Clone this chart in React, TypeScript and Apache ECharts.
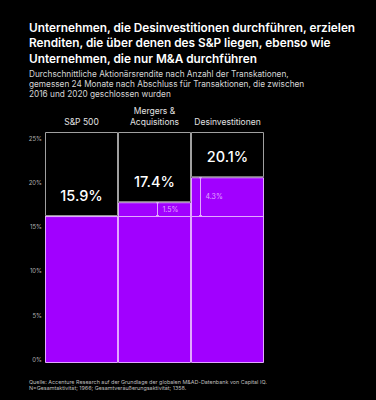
import React, { useEffect, useRef } from "react";
import * as echarts from "echarts";

const titleText = "Unternehmen, die Desinvestitionen durchführen, erzielen\nRenditen, die über denen des S&P liegen, ebenso wie\nUnternehmen, die nur M&A durchführen";
const subtitleText = "Durchschnittliche Aktionärsrendite nach Anzahl der Transkationen,\ngemessen 24 Monate nach Abschluss für Transaktionen, die zwischen\n2016 und 2020 geschlossen wurden";
const footerText = "Quelle: Accenture Research auf der Grundlage der globalen M&AD-Datenbank von Capital IQ.\nN=Gesamtaktivität; 1966; Gesamtveräußerungsaktivität; 1358.";

const categories = ["S&P 500", "Mergers &\nAcquisitions", "Desinvestitionen"];
const returns = [15.9, 17.4, 20.1];
const diffLabels = ["", "1.5%", "4.3%"];
const axisMax = 25;
const axisStep = 5;

const bracketOffsets = [0, 39, 9];
const FONT = "Inter, 'Noto Sans', sans-serif";
const PURPLE = "#a100ff";
const LIGHT = "#e2a8ff";

export default function App() {
  const ref = useRef<HTMLDivElement>(null);
  useEffect(() => {
    if (!ref.current) return;
    const chart = echarts.init(ref.current, undefined, { renderer: "svg" });
    const base = returns[0];
    const bracketData = returns.slice(1).map((v, i) => [i + 1, base, v]);
    chart.setOption({
      animation: false,
      backgroundColor: "#000",
      textStyle: { fontFamily: FONT },
      title: [
        {
          text: titleText,
          left: 24,
          top: 15,
          textStyle: { color: "#fff", fontSize: 11.8, fontWeight: 600, lineHeight: 15.5, fontFamily: FONT },
        },
        {
          text: subtitleText,
          left: 24,
          top: 64,
          textStyle: { color: "#d6d6d6", fontSize: 8.25, fontWeight: 400, lineHeight: 10, fontFamily: FONT },
        },
        {
          text: footerText,
          left: 24,
          top: 374,
          textStyle: { color: "#bdbdbd", fontSize: 5.4, fontWeight: 400, lineHeight: 6, fontFamily: FONT },
        },
      ],
      grid: [
        { left: 45, right: 112, top: 132, bottom: 37 },
        { left: 45, right: 112, top: 138, bottom: 40.5 },
      ],
      xAxis: [
        {
          type: "category",
          data: categories,
          position: "top",
          gridIndex: 0,
          axisLine: { show: false },
          axisTick: { show: false },
          axisLabel: { interval: 0, hideOverlap: false, color: "#e0e0e0", fontSize: 8.5, margin: 5, lineHeight: 11, fontFamily: FONT },
        },
        { type: "category", data: categories, gridIndex: 1, show: false },
      ],
      yAxis: [
        {
          type: "value",
          min: 0,
          max: axisMax,
          interval: axisStep,
          gridIndex: 0,
          axisLine: { show: false },
          axisTick: { show: false },
          axisLabel: { show: false },
          splitLine: { show: false },
        },
        {
          type: "value",
          min: 0,
          max: axisMax,
          interval: axisStep,
          gridIndex: 1,
          axisLine: { show: false },
          axisTick: { show: false },
          splitLine: { show: false },
          axisLabel: { color: "#b0b0b0", fontSize: 6, margin: 3, formatter: "{value}%", fontFamily: FONT },
        },
      ],
      series: [
        {
          type: "bar",
          stack: "total",
          data: returns,
          barCategoryGap: 0,
          itemStyle: { color: PURPLE, borderColor: LIGHT, borderWidth: 1 },
          markLine: {
            silent: true,
            symbol: ["none", "none"],
            label: { show: false },
            lineStyle: { color: LIGHT, width: 1, type: "solid" },
            data: [{ yAxis: base }],
          },
        },
        {
          type: "bar",
          stack: "total",
          data: returns.map((v) => +(axisMax - v).toFixed(2)),
          barCategoryGap: 0,
          itemStyle: { color: "#000", borderColor: "#a0a0a0", borderWidth: 1 },
          label: {
            show: true,
            position: "insideBottom",
            distance: 13,
            color: "#fff",
            fontSize: 14.5,
            fontWeight: 500,
            fontFamily: FONT,
            formatter: (p: any) => returns[p.dataIndex].toFixed(1) + "%",
          },
        },
        {
          type: "custom",
          z: 10,
          data: bracketData,
          renderItem: (params: any, api: any) => {
            const idx = api.value(0);
            const pBase = api.coord([idx, api.value(1)]);
            const pTop = api.coord([idx, api.value(2)]);
            const bw = api.size([1, 0])[0];
            const x = Math.round(pBase[0] - bw / 2 + bracketOffsets[idx]) + 0.5;
            const y1 = pTop[1];
            const y2 = pBase[1];
            const ls = { stroke: LIGHT, lineWidth: 1 };
            return {
              type: "group",
              children: [
                { type: "line", shape: { x1: x, y1, x2: x, y2 }, style: ls },
                { type: "line", shape: { x1: x - 1.5, y1: y1 + 0.5, x2: x + 1.5, y2: y1 + 0.5 }, style: ls },
                { type: "line", shape: { x1: x - 1.5, y1: y2 - 0.5, x2: x + 1.5, y2: y2 - 0.5 }, style: ls },
                {
                  type: "text",
                  x: x + 5,
                  y: (y1 + y2) / 2,
                  style: {
                    text: diffLabels[idx],
                    fill: LIGHT,
                    fontSize: 7,
                    fontFamily: FONT,
                    align: "left",
                    verticalAlign: "middle",
                  },
                },
              ],
            };
          },
        },
      ],
    });
    return () => chart.dispose();
  }, []);
  return <div ref={ref} style={{ position: "fixed", left: 0, top: 0, width: 376, height: 400 }} />;
}
